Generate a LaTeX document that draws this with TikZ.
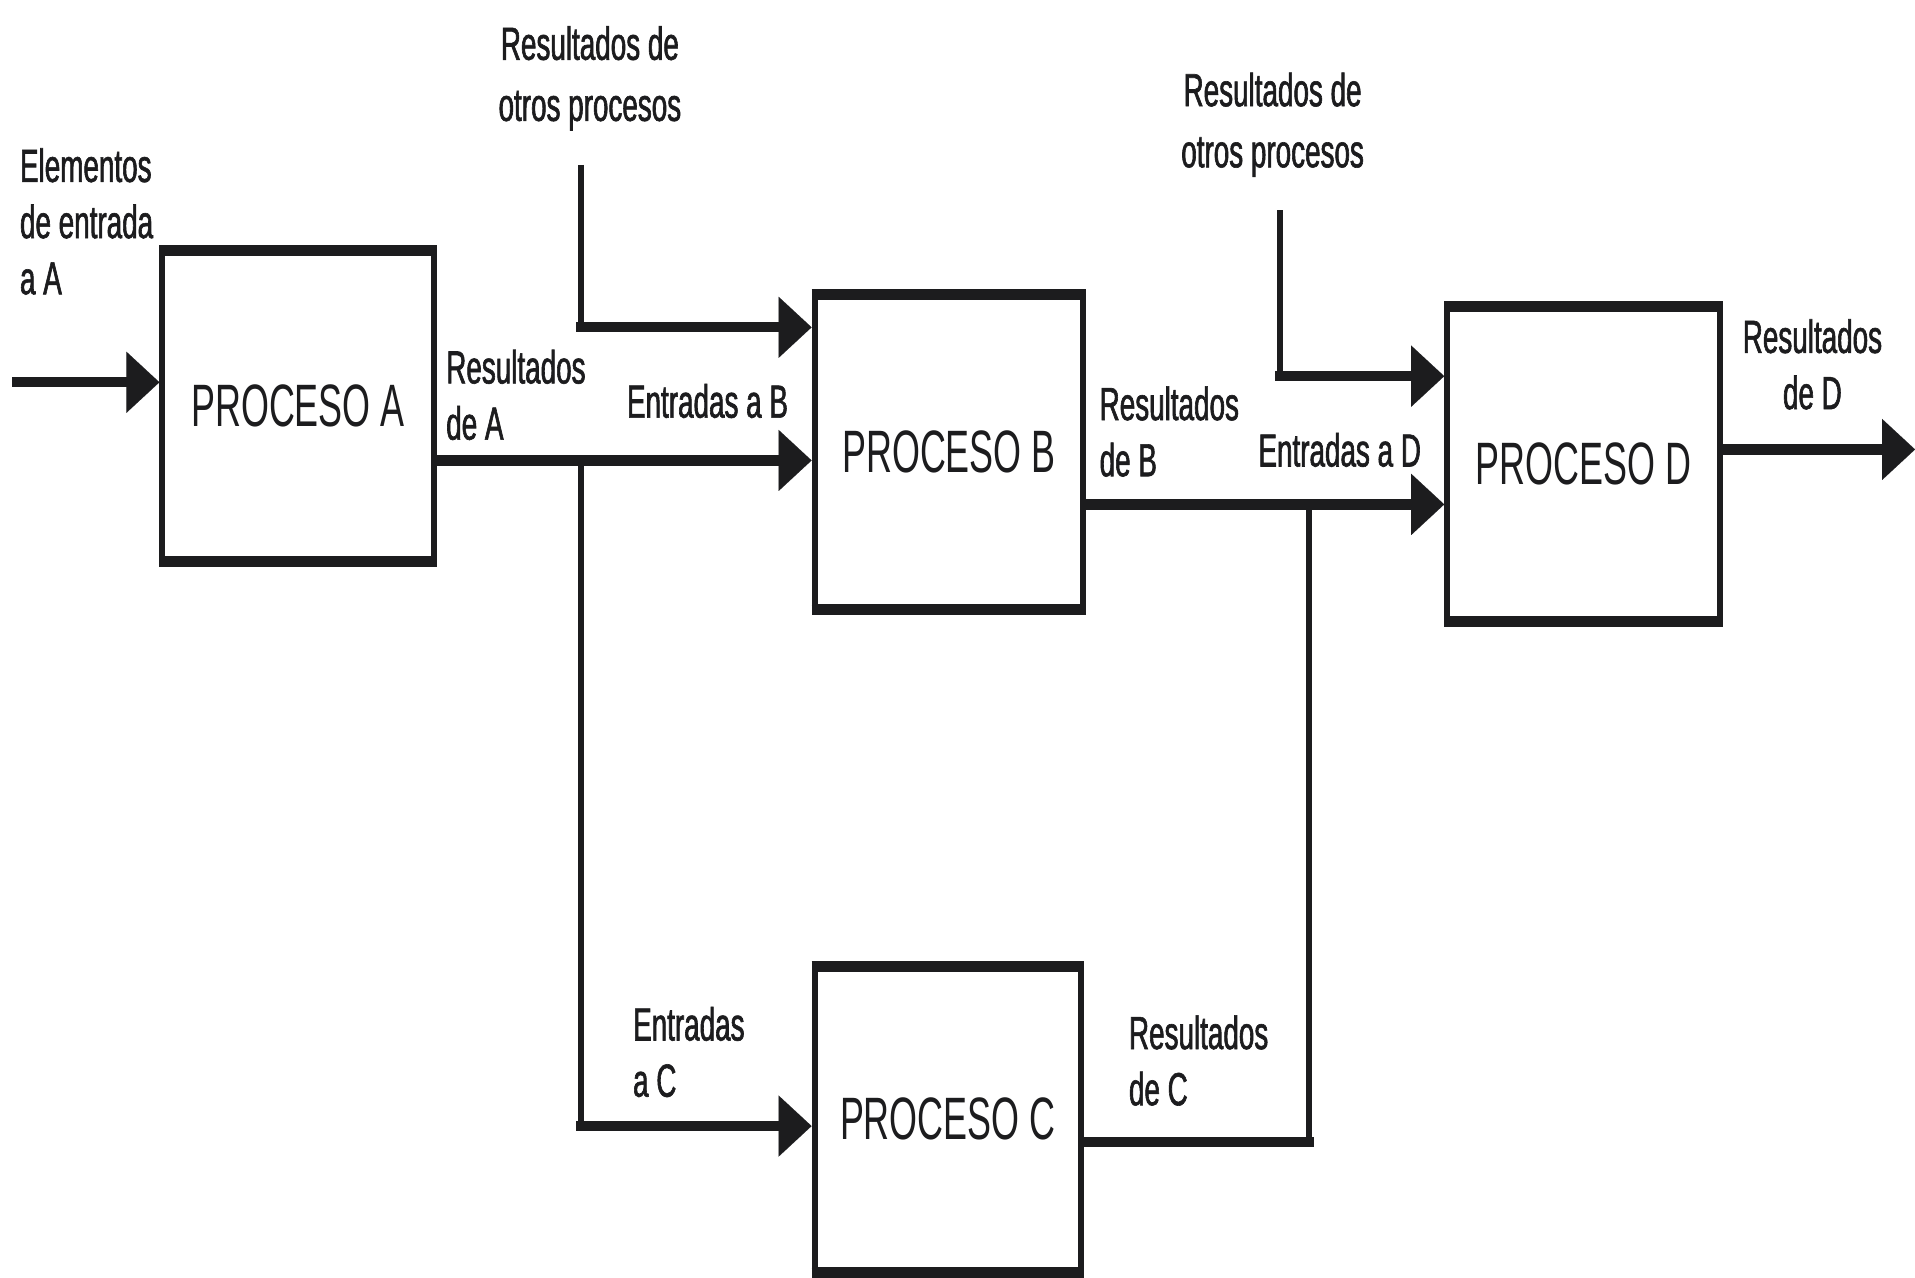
\documentclass[tikz,border=0pt]{standalone}
\usepackage{fontspec}
\setmainfont{Liberation Sans}
\newfontfamily\narrowfont[FakeStretch=0.6]{Liberation Sans}
\newfontfamily\narrowlabelfont[FakeStretch=0.6,FakeBold=1.3]{Liberation Sans}
\usetikzlibrary{arrows.meta}

\definecolor{ink}{HTML}{1C1C1E}

\tikzset{
  proc/.style={draw=ink, line width=2.5pt, fill=none, inner sep=0pt,
    font=\narrowfont\fontsize{24.5}{28}\selectfont, text=ink},
  lbl/.style={inner sep=0pt, font=\narrowlabelfont\fontsize{19}{23}\selectfont, text=ink},
  hwire/.style={draw=ink, line width=4.2pt, line cap=rect},
  vwire/.style={draw=ink, line width=2.5pt},
  tip/.style={-{Triangle[length=13.5pt,width=25pt,line width=0.01pt]}},
}

\begin{document}
\begin{tikzpicture}[x=0.5pt, y=-0.5pt]
  \path[use as bounding box, fill=white] (0,0) rectangle (1568,1046);

  % process boxes
  \node[proc, minimum width=111pt, minimum height=125.5pt] (A) at (244,332.5) {PROCESO A};
  \node[proc, minimum width=110pt, minimum height=127pt] (B) at (777,370) {PROCESO B};
  \node[proc, minimum width=109pt, minimum height=123.5pt] (C) at (776,916.5) {PROCESO C};
  \node[proc, minimum width=111.5pt, minimum height=127pt] (D) at (1296.5,380) {PROCESO D};

  % heavier top and bottom edges
  \foreach \n in {A,B,C,D}{
    \draw[ink, line width=4pt] (\n.north west) -- (\n.north east);
    \draw[ink, line width=4pt] (\n.south west) -- (\n.south east);
  }

  % junction and end points of the wires
  \coordinate (inA) at (14,313);
  \coordinate (jA)  at (476,377);
  \coordinate (jC)  at (476,922);
  \coordinate (oB)  at (476,135);
  \coordinate (oBc) at (476,268);
  \coordinate (bD)  at (1072,413);
  \coordinate (cR)  at (1072,935);
  \coordinate (oD)  at (1048,172);
  \coordinate (oDc) at (1048,308);
  \coordinate (outD) at (1568,368);

  % input of A
  \draw[hwire, tip] (inA) -- (inA -| A.west);
  % A -> B and A -> C
  \draw[hwire, tip] (A.east |- jA) -- (B.west |- jA);
  \draw[vwire] (jA) -- (jC);
  \draw[hwire, tip] (jC) -- (C.west |- jC);
  % other processes -> B
  \draw[vwire] (oB) -- (oBc);
  \draw[hwire, tip] (oBc) -- (B.west |- oBc);
  % B -> D, C joins
  \draw[hwire, tip] (B.east |- bD) -- (D.west |- bD);
  \draw[hwire] (C.east |- cR) -- (cR);
  \draw[vwire] (cR) -- (bD);
  % other processes -> D
  \draw[vwire] (oD) -- (oDc);
  \draw[hwire, tip] (oDc) -- (D.west |- oDc);
  % output of D
  \draw[hwire, tip] (D.east |- outD) -- (outD);

  % labels
  \node[lbl, anchor=north west, align=left] (lInA) at (16,121) {Elementos\\de entrada\\a A};
  \node[lbl, anchor=north, align=center, font=\narrowlabelfont\fontsize{19}{25}\selectfont] (lOB) at (483,21) {Resultados de\\otros procesos};
  \node[lbl, anchor=north west, align=left] (lRA) at (365,286) {Resultados\\de A};
  \node[lbl, anchor=north west] (lEB) at (513,314) {Entradas a B};
  \node[lbl, anchor=north west, align=left] (lRB) at (900,316) {Resultados\\de B};
  \node[lbl, anchor=north, align=center, font=\narrowlabelfont\fontsize{19}{25}\selectfont] (lOD) at (1042,59) {Resultados de\\otros procesos};
  \node[lbl, anchor=north west] (lED) at (1030,354) {Entradas a D};
  \node[lbl, anchor=north, align=center] (lRD) at (1484,261) {Resultados\\de D};
  \node[lbl, anchor=north west, align=left] (lEC) at (518,824) {Entradas\\a C};
  \node[lbl, anchor=north west, align=left] (lRC) at (924,831) {Resultados\\de C};
\end{tikzpicture}
\end{document}
